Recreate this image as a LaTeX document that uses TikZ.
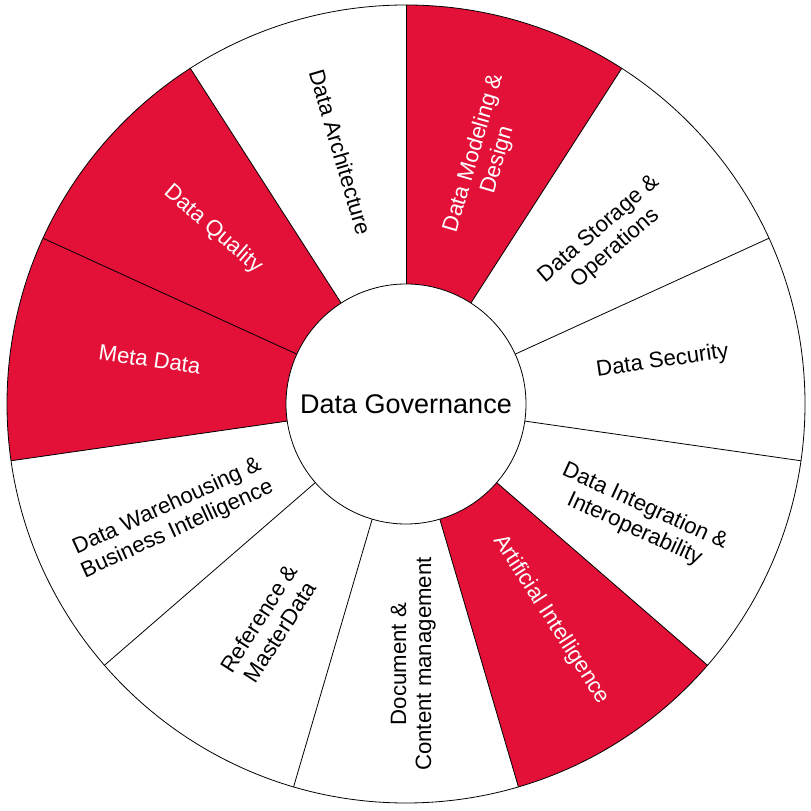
\documentclass[tikz,border=0pt]{standalone}
\usepackage{fontspec}
\setmainfont{Liberation Sans}
\usetikzlibrary{calc}
\definecolor{segred}{RGB}{227,16,56}
\tikzset{
  lbl/.style={align=center, font=\fontsize{22.2}{25}\selectfont, inner sep=0pt, anchor=base},
  lblw/.style={lbl, text=white},
  divider/.style={draw=black, line width=0.8pt},
}
\begin{document}
\begin{tikzpicture}[x=1pt,y=1pt]
\useasboundingbox (0,0) rectangle (811,811);
\coordinate (C) at (406,407);
\def\R{399}
\def\W{32.7272727}
% red sectors
\foreach \k in {0,4,8,9}{
  \pgfmathsetmacro{\a}{90-\k*\W}
  \pgfmathsetmacro{\b}{90-(\k+1)*\W}
  \fill[segred] (C) -- ++(\a:\R) arc[start angle=\a, end angle=\b, radius=\R] -- cycle;
}
% dividers
\foreach \k in {0,...,10}{
  \pgfmathsetmacro{\a}{90-\k*\W}
  \draw[divider] ([shift={(\a:100)}]C) -- ([shift={(\a:\R)}]C);
}
\draw[divider] (C) circle[radius=\R];
\node[circle, draw=black, line width=0.8pt, fill=white, minimum size=240pt, inner sep=0pt,
      font=\fontsize{27}{30}\selectfont] (core) at (C) {Data Governance};
% labels (first baseline through the point at radius 260)
\node[lblw, rotate=73.636] (s0) at ($(C)+(73.636:260)+(-16.364:25)$) {Data Modeling \&\\Design};
\node[lbl, rotate=40.909] (s1) at ($(C)+(40.909:260)+(-49.091:25)$) {Data Storage \&\\Operations};
\node[lbl, rotate=8.182] (s2) at ($(C)+(8.182:260)$) {Data Security};
\node[lbl, rotate=-24.545] (s3) at ($(C)+(-24.545:260)+(-114.545:25)$) {Data Integration \&\\Interoperability};
\node[lblw, rotate=-57.273] (s4) at ($(C)+(-57.273:260)$) {Artificial Intelligence};
\node[lbl, rotate=90] (s5) at ($(C)+(-90:260)+(0:25)$) {Document \&\\Content management};
\node[lbl, rotate=57.273] (s6) at ($(C)+(-122.727:260)+(-32.727:25)$) {Reference \&\\MasterData};
\node[lbl, rotate=24.545] (s7) at ($(C)+(-155.455:260)+(-65.455:25)$) {Data Warehousing \&\\Business Intelligence};
\node[lblw, rotate=-8.182] (s8) at ($(C)+(171.818:260)$) {Meta Data};
\node[lblw, rotate=-40.909] (s9) at ($(C)+(139.091:260)$) {Data Quality};
\node[lbl, rotate=-73.636] (s10) at ($(C)+(106.364:260)$) {Data Architecture};
\end{tikzpicture}
\end{document}
